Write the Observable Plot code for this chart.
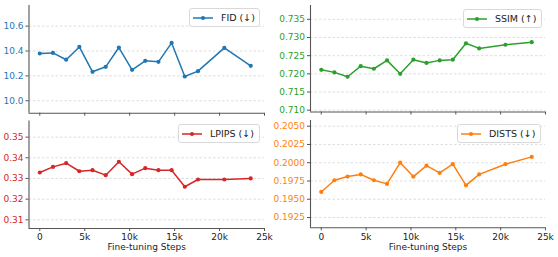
<!DOCTYPE html>
<html>
<head>
<meta charset="utf-8">
<script src="https://cdn.jsdelivr.net/npm/d3@7"></script>
<script src="https://cdn.jsdelivr.net/npm/@observablehq/plot@0.6"></script>
<style>
  html, body { margin: 0; padding: 0; background: #fff; }
  #chart { position: relative; width: 558px; height: 257px; overflow: hidden; font-family: "DejaVu Sans", sans-serif; }
  #chart > svg { position: absolute; overflow: visible; }
  .legend { position: absolute; box-sizing: border-box; border: 1px solid #d9d9d9; border-radius: 3px;
    background: rgba(255,255,255,0.85); display: flex; align-items: center; font-size: 9.5px; color: #222; white-space: nowrap; }
  .legend svg { margin-left: 2px; margin-right: 7px; }
</style>
</head>
<body>
<div id="chart"></div>
<script>
// ---- data ----
const steps = [0, 1467, 2933, 4400, 5867, 7333, 8800, 10267, 11733, 13200, 14667, 16133, 17600, 20533, 23467];
const fid   = [10.380, 10.385, 10.330, 10.433, 10.233, 10.273, 10.428, 10.249, 10.321, 10.313, 10.465, 10.195, 10.238, 10.425, 10.281];
const ssim  = [0.7211, 0.7204, 0.7192, 0.7221, 0.7214, 0.7237, 0.7200, 0.7239, 0.7230, 0.7237, 0.7239, 0.7284, 0.7270, 0.7280, 0.7287];
const lpips = [0.3329, 0.3356, 0.3374, 0.3335, 0.3340, 0.3316, 0.3381, 0.3321, 0.3350, 0.3340, 0.3340, 0.3260, 0.3295, 0.3295, 0.3300];
const dists = [0.1960, 0.1976, 0.1981, 0.1984, 0.1976, 0.1971, 0.2000, 0.1981, 0.1996, 0.1986, 0.1998, 0.1969, 0.1984, 0.1998, 0.2008];

const xTicks = [0, 5000, 10000, 15000, 20000, 25000];
const xTickLabels = ["0", "5k", "10k", "15k", "20k", "25k"];
const xLabel = "Fine-tuning Steps";

const fidTicks   = [10.0, 10.2, 10.4, 10.6];
const ssimTicks  = [0.710, 0.715, 0.720, 0.725, 0.730, 0.735];
const lpipsTicks = [0.31, 0.32, 0.33, 0.34, 0.35];
const distsTicks = [0.1925, 0.1950, 0.1975, 0.2000, 0.2025, 0.2050];

const seriesNames = ["FID (↓)", "SSIM (↑)", "LPIPS (↓)", "DISTS (↓)"];
const colors = ["#1f77b4", "#2ca02c", "#d62728", "#ff7f0e"];

// ---- layout ----
const xDomain = [-1200, 25000];
const panels = [
  { values: fid,   ticks: fidTicks,   fmt: d3.format(".1f"), domain: [9.900, 10.766], name: seriesNames[0], color: colors[0],
    left: 0,   top: 0,   width: 279, height: 118, mL: 28.5, mR: 15, mT: 5,   mB: 5.3, bottom: false,
    legend: { left: 189, top: 8, width: 71, height: 19 } },
  { values: ssim,  ticks: ssimTicks,  fmt: d3.format(".3f"), domain: [0.7095, 0.7388], name: seriesNames[1], color: colors[1],
    left: 279, top: 0,   width: 279, height: 118, mL: 31, mR: 13, mT: 5,   mB: 6.5, bottom: false,
    legend: { left: 463, top: 9, width: 79, height: 19 } },
  { values: lpips, ticks: lpipsTicks, fmt: d3.format(".2f"), domain: [0.3058, 0.3578], name: seriesNames[2], color: colors[2],
    left: 0,   top: 118, width: 279, height: 139, mL: 28.5, mR: 15, mT: 2.5, mB: 29, bottom: true,
    legend: { left: 178, top: 124, width: 82, height: 19 } },
  { values: dists, ticks: distsTicks, fmt: d3.format(".4f"), domain: [0.19109, 0.20578], name: seriesNames[3], color: colors[3],
    left: 279, top: 118, width: 279, height: 139, mL: 31, mR: 13, mT: 2, mB: 29.7, bottom: true,
    legend: { left: 457, top: 124, width: 84, height: 19 } }
];

const chart = document.getElementById("chart");
const spine = "#555";

for (const p of panels) {
  const data = steps.map((s, i) => ({ x: s, y: p.values[i] }));
  const marks = [
    Plot.gridY(p.ticks, { stroke: "#c8c8c8", strokeOpacity: 1, strokeWidth: 0.6, strokeDasharray: "2.5,2" }),
    Plot.axisY(p.ticks, { tickSize: 3, tickPadding: 2.5, tickFormat: p.fmt, fill: p.color, stroke: spine, fontSize: 9, label: null }),
    Plot.axisX(xTicks, { tickSize: 3, tickPadding: 2.5, stroke: spine, fill: "#222", fontSize: 9, label: null,
      tickFormat: p.bottom ? (d => xTickLabels[xTicks.indexOf(d)]) : (() => "") }),
    Plot.ruleX([xDomain[0]], { stroke: spine, strokeWidth: 1.1 }),
    Plot.ruleY([p.domain[0]], { stroke: spine, strokeWidth: 1.1 }),
    Plot.line(data, { x: "x", y: "y", stroke: p.color, strokeWidth: 1.5 }),
    Plot.dot(data, { x: "x", y: "y", fill: p.color, r: 2.1 })
  ];
  if (p.bottom) {
    marks.push(Plot.text([xLabel], { frameAnchor: "bottom", dy: 19, fill: "#222", fontSize: 9, lineAnchor: "middle" }));
  }
  const svg = Plot.plot({
    width: p.width, height: p.height,
    marginLeft: p.mL, marginRight: p.mR, marginTop: p.mT, marginBottom: p.mB,
    x: { domain: xDomain, axis: null },
    y: { domain: p.domain, axis: null },
    style: { fontFamily: "DejaVu Sans, sans-serif", fontSize: "9px", background: "transparent", overflow: "visible" },
    marks
  });
  svg.style.left = p.left + "px";
  svg.style.top = p.top + "px";
  chart.appendChild(svg);

  const lg = document.createElement("div");
  lg.className = "legend";
  lg.style.left = p.legend.left + "px";
  lg.style.top = p.legend.top + "px";
  lg.style.width = p.legend.width + "px";
  lg.style.height = p.legend.height + "px";
  lg.innerHTML = `<svg width="22" height="8"><line x1="1" y1="4" x2="21" y2="4" stroke="${p.color}" stroke-width="1.5"/><circle cx="11" cy="4" r="2.1" fill="${p.color}"/></svg><span>${p.name}</span>`;
  chart.appendChild(lg);
}
</script>
</body>
</html>
